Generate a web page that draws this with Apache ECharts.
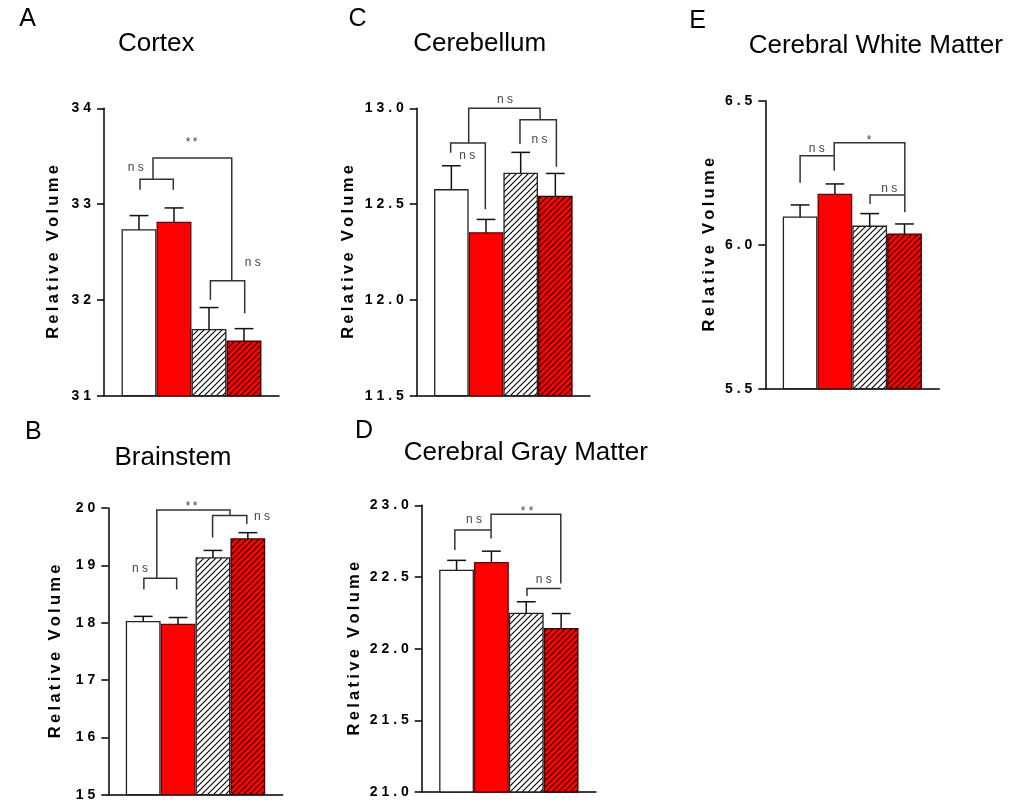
<!DOCTYPE html>
<html><head><meta charset="utf-8">
<script src="https://cdn.jsdelivr.net/npm/echarts@6/dist/echarts.min.js"></script>
<style>html,body{margin:0;padding:0;background:#fff}#c{width:1010px;height:806px}</style>
</head><body><div id="c"></div>
<script>
// ---------------- data ----------------
const groupNames = ['Group 1', 'Group 2', 'Group 3', 'Group 4'];
const panelLetters = ['A', 'B', 'C', 'D', 'E'];
const panelTitles = ['Cortex', 'Brainstem', 'Cerebellum', 'Cerebral Gray Matter', 'Cerebral White Matter'];
const yAxisName = 'Relative Volume';

const cortexMean = [32.73, 32.81, 31.69, 31.57];
const cortexSem = [0.15, 0.15, 0.23, 0.13];
const brainstemMean = [18.02, 17.97, 19.13, 19.46];
const brainstemSem = [0.09, 0.12, 0.13, 0.11];
const cerebellumMean = [12.575, 12.35, 12.66, 12.54];
const cerebellumSem = [0.125, 0.07, 0.11, 0.12];
const grayMean = [22.546, 22.60, 22.246, 22.14];
const graySem = [0.07, 0.08, 0.081, 0.105];
const whiteMean = [6.096, 6.175, 6.064, 6.037];
const whiteSem = [0.042, 0.036, 0.044, 0.035];

const yMins = [31, 15, 11.5, 21, 5.5];
const yMaxs = [34, 20, 13, 23, 6.5];
const ySteps = [1, 1, 0.5, 0.5, 0.5];
const yDecimals = [0, 0, 1, 1, 1];

// significance brackets (polylines in [group index, value] units)
const cortexBrackets = [
  [[0.03, 33.15], [0.03, 33.26], [0.98, 33.26], [0.98, 33.15]],
  [[0.40, 33.26], [0.40, 33.48], [2.65, 33.48], [2.65, 32.20]],
  [[2.04, 32.00], [2.04, 32.20], [3.02, 32.20], [3.02, 31.86]]
];
const cortexMarks = [[-0.09, 33.377, 'n s'], [1.50, 33.64, '*\u2009*'], [3.25, 32.385, 'n s']];

const brainstemBrackets = [
  [[0.02, 18.577], [0.02, 18.774], [0.96, 18.774], [0.96, 18.577]],
  [[0.39, 18.774], [0.39, 19.963], [2.49, 19.963], [2.49, 19.877]],
  [[1.99, 19.487], [1.99, 19.87], [2.97, 19.87], [2.97, 19.72]]
];
const brainstemMarks = [[-0.09, 18.948, 'n s'], [1.39, 20.03, '*\u2009*'], [3.41, 19.847, 'n s']];

const cerebellumBrackets = [
  [[-0.02, 12.768], [-0.02, 12.819], [0.98, 12.819], [0.98, 12.473]],
  [[0.50, 12.819], [0.50, 13.0], [2.56, 13.0], [2.56, 12.944]],
  [[1.98, 12.814], [1.98, 12.940], [3.03, 12.940], [3.03, 12.695]]
];
const cerebellumMarks = [[0.46, 12.753, 'n s'], [1.55, 13.043, 'n s'], [2.54, 12.835, 'n s']];

const grayBrackets = [
  [[-0.05, 22.688], [-0.05, 22.827], [0.99, 22.827]],
  [[0.99, 22.769], [0.99, 22.937], [2.99, 22.937], [2.99, 22.455]],
  [[2.02, 22.367], [2.02, 22.42], [2.99, 22.42]]
];
const grayMarks = [[0.50, 22.897, 'n s'], [2.02, 22.955, '* *'], [2.50, 22.478, 'n s']];

const whiteBrackets = [
  [[0.00, 6.215], [0.00, 6.309], [0.98, 6.309]],
  [[0.98, 6.257], [0.98, 6.354], [3.01, 6.354], [3.01, 6.1125]],
  [[2.01, 6.141], [2.01, 6.1726], [3.01, 6.1726]]
];
const whiteMarks = [[0.48, 6.332, 'n s'], [1.98, 6.362, '*'], [2.56, 6.194, 'n s']];

const panelMeans = [cortexMean, brainstemMean, cerebellumMean, grayMean, whiteMean];
const panelSems = [cortexSem, brainstemSem, cerebellumSem, graySem, whiteSem];
const panelBrackets = [cortexBrackets, brainstemBrackets, cerebellumBrackets, grayBrackets, whiteBrackets];
const panelMarks = [cortexMarks, brainstemMarks, cerebellumMarks, grayMarks, whiteMarks];

// ---------------- layout / style ----------------
const FONT = '"Liberation Sans", Arial, Helvetica, sans-serif';
const grids = [
  { left: 104, top: 108.3, width: 175, height: 287.4 },
  { left: 108.3, top: 508, width: 174.4, height: 286.7 },
  { left: 416.7, top: 108.3, width: 173.3, height: 287.4 },
  { left: 421.7, top: 505.3, width: 174.3, height: 286.7 },
  { left: 765.3, top: 100.7, width: 174, height: 288 }
];
const nameGaps = [50.5, 52.5, 68.5, 67.5, 55.5];
const titlePos = [[156.2, 44], [173, 457.5], [479.7, 44], [525.8, 452.5], [875.8, 45.8]];
const letterPos = [[27.5, 19], [33.3, 432.5], [357.5, 19], [364, 430.8], [697.5, 20.8]];

function hatch(bg) {
  const s = 6;
  const c = document.createElement('canvas');
  c.width = s; c.height = s;
  const g = c.getContext('2d');
  g.fillStyle = bg; g.fillRect(0, 0, s, s);
  g.strokeStyle = '#000'; g.lineWidth = 1.1;
  g.beginPath();
  g.moveTo(-1, s + 1); g.lineTo(s + 1, -1);
  g.moveTo(-1, 1); g.lineTo(1, -1);
  g.moveTo(s - 1, s + 1); g.lineTo(s + 1, s - 1);
  g.stroke();
  return { image: c, repeat: 'repeat' };
}
const fills = ['#ffffff', '#ff0000', hatch('#ffffff'), hatch('#ff0000')];
const strokes = ['#222', '#6a0000', '#222', '#3a0000'];

const spaced = s => s.split('').join(' ');
const spacedName = yAxisName.split('').join('\u2009');

const option = { animation: false, backgroundColor: '#fff', grid: [], xAxis: [], yAxis: [], series: [], graphic: [] };

for (let p = 0; p < 5; p++) {
  option.grid.push(Object.assign({ containLabel: false }, grids[p]));
  option.xAxis.push({
    type: 'value', gridIndex: p, min: -1, max: 4,
    axisLine: { show: true, onZero: false, lineStyle: { color: '#000', width: 1.5 } },
    axisTick: { show: false }, axisLabel: { show: false }, splitLine: { show: false }
  });
  option.yAxis.push({
    type: 'value', gridIndex: p, min: yMins[p], max: yMaxs[p], interval: ySteps[p],
    name: spacedName, nameLocation: 'middle', nameRotate: 90, nameGap: nameGaps[p],
    nameTextStyle: { fontFamily: FONT, fontSize: 16.5, fontWeight: 'bold', color: '#000', verticalAlign: 'middle' },
    axisLine: { show: true, onZero: false, lineStyle: { color: '#000', width: 1.5 } },
    axisTick: { show: true, length: 7, lineStyle: { color: '#000', width: 1.5 } },
    axisLabel: {
      margin: 13, fontFamily: FONT, fontSize: 14, fontWeight: 'bold', color: '#000',
      formatter: (function (d) { return v => spaced(v.toFixed(d)); })(yDecimals[p])
    },
    splitLine: { show: false }
  });

  const means = panelMeans[p], sems = panelSems[p], ymin = yMins[p];
  option.series.push({
    type: 'custom', name: panelTitles[p], xAxisIndex: p, yAxisIndex: p, clip: false,
    data: means.map((m, i) => ({ name: groupNames[i], value: [i, m, sems[i]] })),
    encode: { x: 0, y: 1 },
    renderItem: function (params, api) {
      const i = api.value(0), m = api.value(1), e = api.value(2);
      const tl = api.coord([i - 0.48, m]);
      const br = api.coord([i + 0.48, ymin]);
      const mid = api.coord([i, m]);
      const top = api.coord([i, m + e]);
      const cl = api.coord([i - 0.27, m + e]);
      const cr = api.coord([i + 0.27, m + e]);
      return {
        type: 'group', children: [
          { type: 'rect', shape: { x: tl[0], y: tl[1], width: br[0] - tl[0], height: br[1] - tl[1] },
            style: { fill: fills[i], stroke: strokes[i], lineWidth: 1.3 } },
          { type: 'line', shape: { x1: mid[0], y1: mid[1], x2: top[0], y2: top[1] },
            style: { stroke: '#111', lineWidth: 1.5 } },
          { type: 'line', shape: { x1: cl[0], y1: cl[1], x2: cr[0], y2: cr[1] },
            style: { stroke: '#111', lineWidth: 1.5 } }
        ]
      };
    }
  });

  const brackets = panelBrackets[p];
  option.series.push({
    type: 'custom', xAxisIndex: p, yAxisIndex: p, clip: false, silent: true,
    data: brackets.map((b, k) => [k, ymin]),
    renderItem: function (params, api) {
      const k = api.value(0);
      const pts = brackets[k].map(pt => api.coord(pt));
      return { type: 'polyline', shape: { points: pts }, style: { stroke: '#333', lineWidth: 1.5, fill: null } };
    }
  });

  const marks = panelMarks[p];
  option.series.push({
    type: 'custom', xAxisIndex: p, yAxisIndex: p, clip: false, silent: true,
    data: marks.map(m => [m[0], m[1]]),
    renderItem: function (params, api) {
      const k = params.dataIndex;
      const c = api.coord([api.value(0), api.value(1)]);
      return { type: 'text', x: c[0], y: c[1],
        style: { text: marks[k][2], fill: '#444', font: '12px ' + FONT, align: 'center', verticalAlign: 'middle' } };
    }
  });

  option.graphic.push({
    type: 'text', x: titlePos[p][0], y: titlePos[p][1],
    style: { text: panelTitles[p], fill: '#000', font: '26px ' + FONT, align: 'center', verticalAlign: 'middle' }
  });
  option.graphic.push({
    type: 'text', x: letterPos[p][0], y: letterPos[p][1],
    style: { text: panelLetters[p], fill: '#000', font: '25px ' + FONT, align: 'center', verticalAlign: 'middle' }
  });
}

const chart = echarts.init(document.getElementById('c'), null, { renderer: 'canvas' });
chart.setOption(option);
</script>
</body></html>
